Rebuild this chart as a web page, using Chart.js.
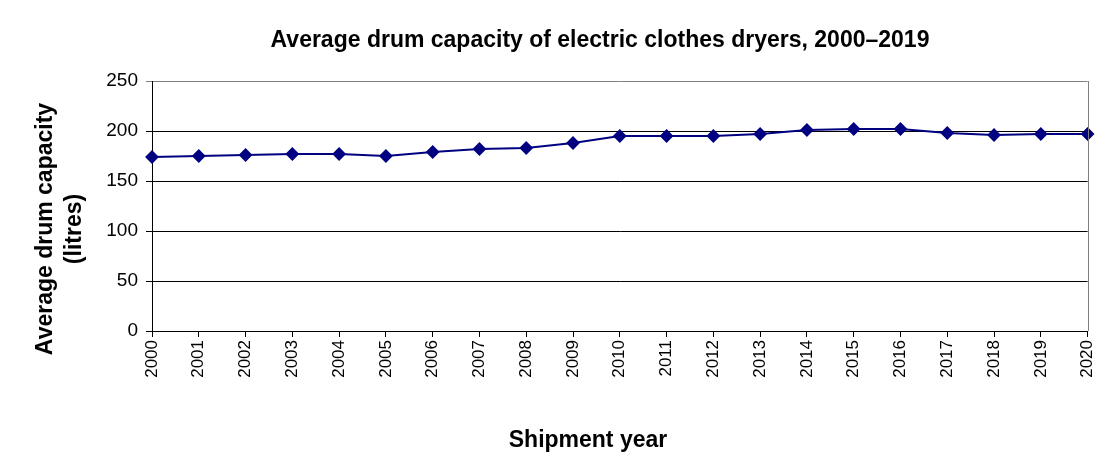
<!DOCTYPE html>
<html><head><meta charset="utf-8">
<script src="https://cdn.jsdelivr.net/npm/chart.js@4"></script>
<style>html,body{margin:0;padding:0;background:#fff}#wrap{width:1111px;height:467px}</style>
</head><body><div id="wrap"><canvas id="c" width="1111" height="467"></canvas></div>
<script>
const years = ["2000","2001","2002","2003","2004","2005","2006","2007","2008","2009","2010","2011","2012","2013","2014","2015","2016","2017","2018","2019","2020"];
const capacity = [174,175,176,177,177,175,179,182,183,188,195,195,195,197,201,202,202,198,196,197,197];
const yTicks = [0,50,100,150,200,250];
const titleText = "Average drum capacity of electric clothes dryers, 2000\u20132019";
const yTitle = ["Average drum capacity","(litres)"];
const xTitle = "Shipment year";

const FONT = "'Liberation Sans', Arial, sans-serif";

const textPlugin = {
  id: 'texts',
  afterDraw(chart) {
    const ctx = chart.ctx, a = chart.chartArea;
    ctx.save();
    ctx.strokeStyle = '#808080'; ctx.lineWidth = 1;
    ctx.beginPath(); ctx.moveTo(Math.round(a.right)+0.5, a.top); ctx.lineTo(Math.round(a.right)+0.5, a.bottom); ctx.stroke();
    ctx.fillStyle = '#000';
    ctx.textAlign = 'center'; ctx.textBaseline = 'middle';
    ctx.font = "bold 23px " + FONT;
    ctx.fillText(titleText, 600, 41);
    ctx.fillText(xTitle, 588, 441);
    ctx.save();
    ctx.translate(61, 229); ctx.rotate(-Math.PI/2);
    ctx.fillText(yTitle[0], 0, -15);
    ctx.fillText(yTitle[1], 0, 14);
    ctx.restore();
    ctx.restore();
  }
};

new Chart(document.getElementById('c'), {
  type: 'line',
  data: { labels: years, datasets: [{
    data: capacity, borderColor: '#000080', backgroundColor: '#000080', borderWidth: 2,
    pointStyle: 'rectRot', pointRadius: 5.5, pointHoverRadius: 5.5, tension: 0, clip: false
  }]},
  options: {
    responsive: false, animation: false,
    layout: { padding: { left: 0, right: 21, top: 81, bottom: 0 } },
    plugins: { legend: { display: false }, title: { display: false }, tooltip: { enabled: false } },
    scales: {
      x: {
        offset: false,
        afterFit(s) { s.height = 136; },
        grid: { drawOnChartArea: false, drawTicks: true, tickLength: 6, color: '#000' },
        border: { color: '#000', width: 1 },
        ticks: { autoSkip: false, maxRotation: 90, minRotation: 90, color: '#000', font: { family: FONT, size: 17 }, padding: 3 }
      },
      y: {
        min: 0, max: 250,
        afterFit(s) { s.width = 152; },
        afterBuildTicks(s) { s.ticks = yTicks.map(v => ({ value: v })); },
        grid: { color: ctx => (ctx.tick && ctx.tick.value === 250) ? '#808080' : '#000', tickLength: 6, lineWidth: 1 },
        border: { color: '#000', width: 1 },
        ticks: { color: '#000', font: { family: FONT, size: 19 }, padding: 8 }
      }
    }
  },
  plugins: [textPlugin]
});
</script></body></html>
